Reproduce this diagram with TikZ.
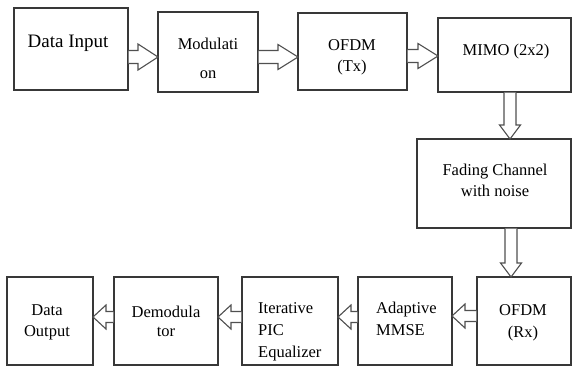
\documentclass[tikz,border=0pt]{standalone}
\usepackage{fontspec}
\setmainfont{Liberation Serif}
\usetikzlibrary{calc}
\definecolor{boxgray}{HTML}{383838}
\definecolor{arrowgray}{HTML}{505050}
\tikzset{
  box/.style={draw=boxgray, line width=1.4pt, inner sep=0pt, outer sep=0pt},
  barrow/.style={draw=arrowgray, line width=1.1pt, fill=white, line join=miter},
  txt/.style={anchor=base, inner sep=0pt, font=\fontsize{16.5}{20}\selectfont},
}
% rightward block arrow: from node #1 (east) to node #2 (west) at y=#3
\newcommand\rarr[6]{%
  \draw[barrow] let \p1=(#1.east), \p2=(#2.west) in
  ({\x1+0.7pt},{-(#3-#4)*1pt}) -- ({\x2-#6pt},{-(#3-#4)*1pt}) -- ({\x2-#6pt},{-(#3-#5)*1pt})
  -- (\x2,{-#3*1pt}) -- ({\x2-#6pt},{-(#3+#5)*1pt}) -- ({\x2-#6pt},{-(#3+#4)*1pt})
  -- ({\x1+0.7pt},{-(#3+#4)*1pt});}
% leftward block arrow: from node #1 (west) to node #2 (east) at y=#3
\newcommand\larr[6]{%
  \draw[barrow] let \p1=(#1.west), \p2=(#2.east) in
  ({\x1-0.7pt},{-(#3-#4)*1pt}) -- ({\x2+#6pt},{-(#3-#4)*1pt}) -- ({\x2+#6pt},{-(#3-#5)*1pt})
  -- (\x2,{-#3*1pt}) -- ({\x2+#6pt},{-(#3+#5)*1pt}) -- ({\x2+#6pt},{-(#3+#4)*1pt})
  -- ({\x1-0.7pt},{-(#3+#4)*1pt});}
% downward block arrow: from node #1 (south) to node #2 (north) at x=#3
\newcommand\darr[6]{%
  \draw[barrow] let \p1=(#1.south), \p2=(#2.north) in
  ({(#3-#4)*1pt},{\y1-0.7pt}) -- ({(#3-#4)*1pt},{\y2+#6pt}) -- ({(#3-#5)*1pt},{\y2+#6pt})
  -- ({#3*1pt},\y2) -- ({(#3+#5)*1pt},{\y2+#6pt}) -- ({(#3+#4)*1pt},{\y2+#6pt})
  -- ({(#3+#4)*1pt},{\y1-0.7pt});}
\begin{document}
\begin{tikzpicture}[x=1pt,y=-1pt]
\useasboundingbox (0,0) rectangle (572,365);
% boxes
\node[box, minimum width=114pt, minimum height=82pt] (din) at (71,49) {};
\node[box, minimum width=100pt, minimum height=80pt] (mod) at (208,52) {};
\node[box, minimum width=109pt, minimum height=77pt] (ofdmtx) at (352.5,51.5) {};
\node[box, minimum width=133pt, minimum height=74pt] (mimo) at (504.5,55) {};
\node[box, minimum width=154pt, minimum height=89pt] (fading) at (494,183.5) {};
\node[box, minimum width=94pt, minimum height=88pt] (ofdmrx) at (524,321) {};
\node[box, minimum width=94pt, minimum height=88pt] (mmse) at (405,321) {};
\node[box, minimum width=96pt, minimum height=88pt] (pic) at (290,321) {};
\node[box, minimum width=104pt, minimum height=88pt] (demod) at (166,321) {};
\node[box, minimum width=86pt, minimum height=88pt] (dout) at (50,321) {};
% arrows
\rarr{din}{mod}{57}{6.5}{13}{20}
\rarr{mod}{ofdmtx}{57}{6.5}{12.5}{20}
\rarr{ofdmtx}{mimo}{56}{6.5}{12.5}{20}
\darr{mimo}{fading}{510}{6}{10.5}{14}
\darr{fading}{ofdmrx}{511}{6}{10.5}{14}
\larr{ofdmrx}{mmse}{316}{5.5}{12}{13}
\larr{mmse}{pic}{317}{5.5}{12}{13}
\larr{pic}{demod}{317}{5.5}{12}{13}
\larr{demod}{dout}{317}{5.5}{12}{13}
% texts
\node[txt, font=\fontsize{19}{22}\selectfont] (t1) at (68,47) {Data Input};
\node[txt] (t2a) at (208,49) {Modulati};
\node[txt] (t2b) at (208,78) {on};
\node[txt] (t3a) at (352,50) {OFDM};
\node[txt] (t3b) at (352,71) {(Tx)};
\node[txt] (t4) at (506,55) {MIMO (2x2)};
\node[txt] (t5a) at (495,175) {Fading Channel};
\node[txt] (t5b) at (495,196) {with noise};
\node[txt] (t6a) at (523,315) {OFDM};
\node[txt] (t6b) at (523,337) {(Rx)};
\node[txt, anchor=base west] (t7a) at (376,313) {Adaptive};
\node[txt, anchor=base west] (t7b) at (376,335) {MMSE};
\node[txt, anchor=base west] (t8a) at (258,313) {Iterative};
\node[txt, anchor=base west] (t8b) at (258,335) {PIC};
\node[txt, anchor=base west] (t8c) at (258,357) {Equalizer};
\node[txt] (t9a) at (166,317) {Demodula};
\node[txt] (t9b) at (166,336) {tor};
\node[txt] (t10a) at (47,315) {Data};
\node[txt] (t10b) at (47,336) {Output};
\end{tikzpicture}
\end{document}
